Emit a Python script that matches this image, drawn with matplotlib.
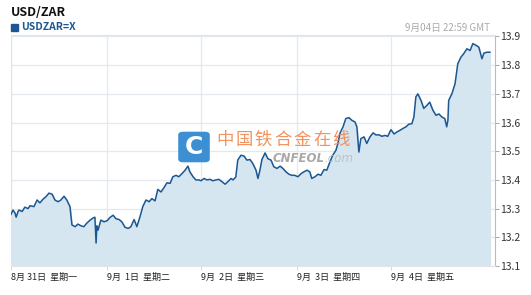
import matplotlib
matplotlib.use("Agg")
import matplotlib.pyplot as plt
from matplotlib.patches import FancyBboxPatch

plt.rcParams['font.family'] = ['Noto Sans CJK SC', 'DejaVu Sans']

# Stunden seit 8月31日 00:00 und Kurs USD/ZAR
stunden = [0, 0.5, 1.0, 1.3, 1.8, 2.0, 2.8, 3.5, 4.3, 4.8, 5.8, 6.6, 7.3, 8.1, 8.8, 9.6,
           10.4, 11.1, 11.9, 12.6, 13.4, 14.1, 14.9, 15.4, 16.2, 16.9, 17.7, 18.4, 19.2,
           20.0, 20.7, 21.2, 21.5, 21.7, 22.0, 22.7, 23.5, 24.3, 25.0, 25.8, 26.5, 27.3,
           28.0, 28.8, 29.6, 30.3, 31.1, 31.8, 32.6, 33.3, 34.1, 34.9, 35.6, 36.4, 37.1,
           37.9, 38.7, 39.4, 40.2, 40.9, 41.7, 42.4, 43.2, 44.0, 44.7, 45.2, 46.0, 46.7,
           47.5, 48.0, 48.8, 49.5, 50.3, 51.0, 51.8, 52.5, 53.3, 54.1, 54.8, 55.6, 56.1,
           56.8, 57.3, 58.1, 58.9, 59.6, 60.4, 61.1, 61.9, 62.4, 62.9, 63.4, 64.2, 64.9,
           65.7, 66.4, 67.2, 68.0, 68.7, 69.5, 70.2, 71.0, 71.7, 72.5, 73.3, 74.0, 74.8,
           75.5, 76.0, 76.8, 77.6, 78.3, 79.1, 79.8, 80.6, 81.3, 82.1, 82.6, 83.1, 83.9,
           84.6, 85.4, 86.1, 86.9, 87.4, 87.9, 88.4, 89.2, 89.9, 90.7, 91.5, 92.2, 93.0,
           93.7, 94.5, 95.2, 96.0, 96.8, 97.5, 98.3, 99.0, 99.8, 100.5, 101.3, 101.8,
           102.3, 102.8, 103.6, 104.3, 105.1, 105.8, 106.6, 107.4, 108.1, 108.9, 109.6,
           110.1, 110.4, 110.6, 111.4, 112.2, 112.9, 113.7, 114.4, 115.2, 116.0, 116.7,
           117.5, 118.2, 119.0, 119.5, 120.3, 121.0]
kurs = [13.280, 13.295, 13.285, 13.270, 13.290, 13.295, 13.290, 13.305, 13.300, 13.310,
        13.307, 13.330, 13.320, 13.333, 13.341, 13.354, 13.350, 13.330, 13.324, 13.330,
        13.343, 13.330, 13.307, 13.243, 13.237, 13.246, 13.240, 13.237, 13.250, 13.260,
        13.267, 13.270, 13.180, 13.240, 13.225, 13.260, 13.254, 13.258, 13.269, 13.277,
        13.265, 13.262, 13.254, 13.235, 13.231, 13.237, 13.262, 13.237, 13.272, 13.307,
        13.330, 13.324, 13.335, 13.327, 13.367, 13.358, 13.374, 13.390, 13.388, 13.411,
        13.416, 13.411, 13.422, 13.434, 13.448, 13.428, 13.411, 13.400, 13.400, 13.397,
        13.405, 13.400, 13.402, 13.397, 13.400, 13.402, 13.394, 13.385, 13.394, 13.405,
        13.400, 13.410, 13.469, 13.486, 13.483, 13.469, 13.471, 13.457, 13.434, 13.405,
        13.434, 13.471, 13.494, 13.474, 13.469, 13.446, 13.440, 13.448, 13.440, 13.428,
        13.420, 13.416, 13.416, 13.411, 13.422, 13.428, 13.434, 13.428, 13.405, 13.411,
        13.420, 13.416, 13.436, 13.434, 13.463, 13.486, 13.503, 13.527, 13.562, 13.585,
        13.614, 13.617, 13.608, 13.602, 13.585, 13.497, 13.544, 13.550, 13.527, 13.550,
        13.564, 13.557, 13.557, 13.552, 13.555, 13.552, 13.575, 13.560, 13.567, 13.573,
        13.579, 13.585, 13.594, 13.596, 13.619, 13.689, 13.700, 13.677, 13.649, 13.660,
        13.671, 13.643, 13.625, 13.630, 13.619, 13.614, 13.585, 13.608, 13.677, 13.700,
        13.735, 13.805, 13.828, 13.840, 13.857, 13.851, 13.875, 13.869, 13.863, 13.822,
        13.842, 13.845, 13.845]

tage_pos = [0, 24.2, 48, 72.2, 96]
tage_text = ["8月 31日  星期一", "9月  1日  星期二", "9月  2日  星期三", "9月  3日  星期四", "9月  4日  星期五"]
y_ticks = [13.1, 13.2, 13.3, 13.4, 13.5, 13.6, 13.7, 13.8, 13.9]

fig = plt.figure(figsize=(5.31, 2.95), dpi=100)
ax = fig.add_axes([11/531, 29/295, 484/531, 231/295])

ax.fill_between(stunden, kurs, 13.0, color="#d6e6f1", zorder=1)
ax.plot(stunden, kurs, color="#1d5791", lw=1.1, zorder=3)

ax.set_xlim(0, 122.3)
ax.set_ylim(13.1, 13.905)
ax.set_xticks(tage_pos)
ax.set_xticklabels(tage_text, ha="left", fontsize=6.5, color="#222222")
ax.set_yticks(y_ticks)
ax.set_yticklabels(["%.1f" % v for v in y_ticks], fontsize=7.5, color="#333333")
ax.yaxis.tick_right()
ax.tick_params(axis="y", length=3, width=0.6, color="#999999", pad=1)
ax.tick_params(axis="x", length=3, width=0.6, color="#c5d3df", pad=2)
ax.grid(True, color="#e4e8ef", lw=0.9, zorder=0)
ax.set_axisbelow(True)
for s in ["left", "top", "bottom"]:
    ax.spines[s].set_color("#e0e3e8")
ax.spines["right"].set_color("#bbbbbb")
ax.spines["right"].set_linewidth(0.8)

# Kopfzeile
fig.text(11/531, 1 - 12/295, "USD/ZAR", fontsize=9, fontweight="bold", color="#111111", va="center")
fig.patches.append(plt.Rectangle((11/531, 1 - 31/295), 7/531, 7/295, transform=fig.transFigure,
                                 color="#1d5791"))
fig.text(21/531, 1 - 27.5/295, "USDZAR=X", fontsize=7.5, fontweight="bold", color="#1d5791", va="center")
fig.text(490/531, 1 - 27.5/295, "9月04日 22:59 GMT", fontsize=7, color="#aaaaaa", va="center", ha="right")

# Wasserzeichen
logo = FancyBboxPatch((180/531, 1 - 161/295), 28/531, 28/295, boxstyle="round,pad=0.002,rounding_size=0.008",
                      transform=fig.transFigure, color="#3b8fd2", zorder=5)
fig.patches.append(logo)
fig.text(194/531, 1 - 146.5/295, "C", fontsize=18, fontweight="bold", color="white", ha="center", va="center",
         family="DejaVu Sans", zorder=6)
for i, zeichen in enumerate("中国铁合金在线"):
    fig.text((216 + i * 19.4)/531, 1 - 140/295, zeichen, fontsize=12.5, color="#f2874d", va="center",
             alpha=0.9, zorder=6)
fig.text(273/531, 1 - 158/295, "CNFEOL", fontsize=8.5, fontweight="bold", style="italic", color="#999999",
         va="center", family="DejaVu Sans", alpha=0.85, zorder=6)
fig.text(324/531, 1 - 158/295, ".com", fontsize=8.5, style="italic", color="#bbbbbb",
         va="center", family="DejaVu Sans", alpha=0.85, zorder=6)

fig.savefig("out.png", dpi=100)
